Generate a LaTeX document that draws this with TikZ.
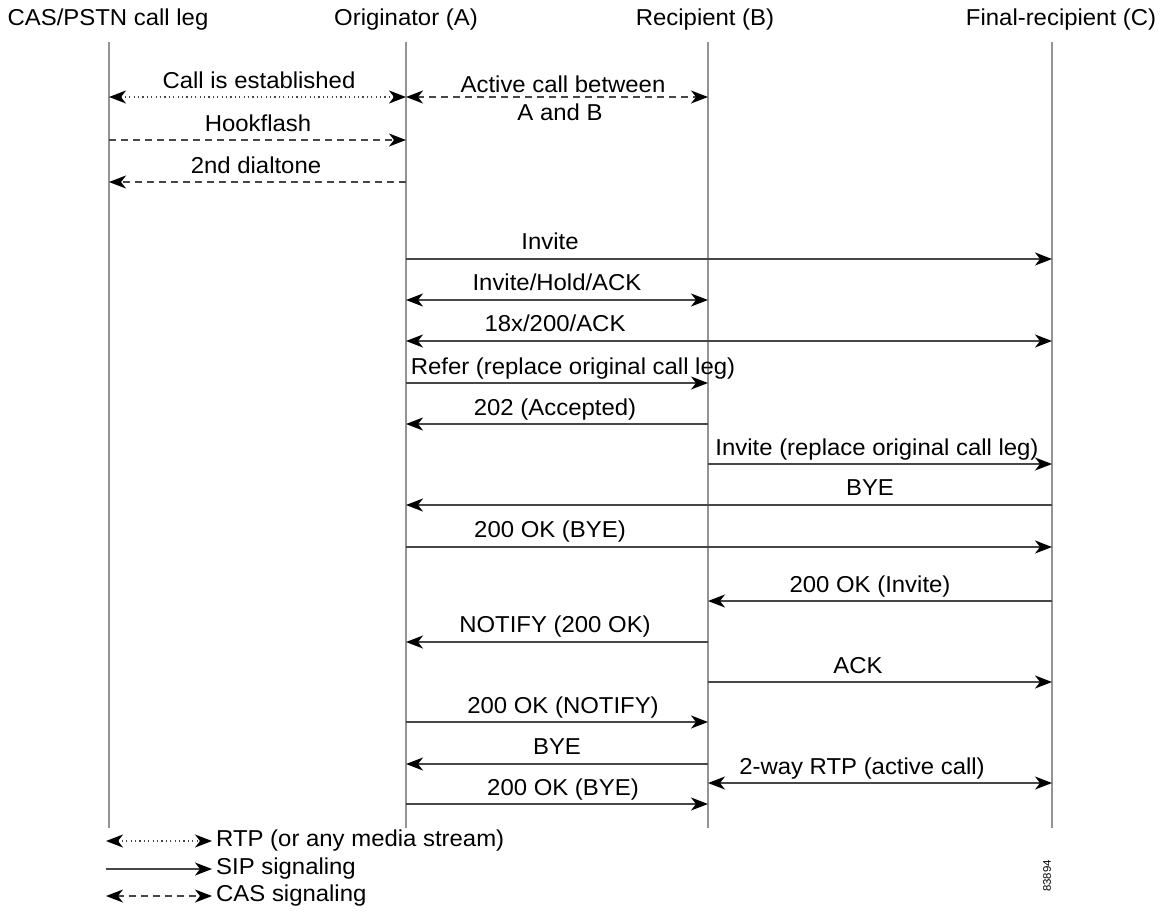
\documentclass[tikz,border=0pt]{standalone}
\usepackage{fontspec}
\setmainfont{Liberation Sans}[FakeStretch=1.04]
\usetikzlibrary{arrows.meta}
\begin{document}
\begin{tikzpicture}[x=1pt,y=-1pt,
  life/.style={draw=black!42, line width=1.7pt},
  tip/.tip={Stealth[length=17pt,width=13pt,inset=5pt,color=black]},
  msg/.style={draw=black!72, line width=1.4pt, -tip},
  bmsg/.style={draw=black!72, line width=1.4pt, tip-tip},
  casline/.style={dash pattern=on 7pt off 5pt},
  rtpline/.style={dash pattern=on 1.2pt off 3.2pt},
  lbl/.style={font=\fontsize{23}{26}\selectfont, anchor=base, inner sep=0pt},
  head/.style={font=\fontsize{23}{26}\selectfont, anchor=base, inner sep=0pt},
  leg/.style={font=\fontsize{23}{26}\selectfont, anchor=west, inner sep=0pt}
]
\useasboundingbox (0,0) rectangle (1161,911);
% lifeline anchors per row
\foreach \r/\yy in {0/42,1/97,2/140,3/182,4/259,5/300,6/341,7/383,8/424,9/464,10/505,11/547,12/601,13/642,14/682,15/722,16/764,17/783,18/804,19/828}{
  \foreach \n/\xx in {S/109,A/406,B/708,C/1052}{
    \coordinate (\n\r) at (\xx,\yy);
  }
}
% headers
\node[head] (hS) at (108,25) {CAS/PSTN call leg};
\node[head] (hA) at (406,25) {Originator (A)};
\node[head] (hB) at (705,25) {Recipient (B)};
\node[head] (hC) at (1061,25) {Final-recipient (C)};
% lifelines
\draw[life] (S0) -- (S19);
\draw[life] (A0) -- (A19);
\draw[life] (B0) -- (B19);
\draw[life] (C0) -- (C19);
% messages
\draw[bmsg,rtpline] (S1) -- (A1);
\node[lbl] (l1) at (259,88) {Call is established};
\draw[bmsg,casline] (A1) -- (B1);
\node[lbl] (l1b) at (563,92) {Active call between};
\node[lbl] (l1c) at (560,120) {A and B};
\draw[msg,casline] (S2) -- (A2);
\node[lbl] (l2) at (258,131) {Hookflash};
\draw[msg,casline] (A3) -- (S3);
\node[lbl] (l3) at (256,173) {2nd dialtone};
\draw[msg] (A4) -- (C4);
\node[lbl] (l4) at (550,249) {Invite};
\draw[bmsg] (A5) -- (B5);
\node[lbl] (l5) at (557,290) {Invite/Hold/ACK};
\draw[bmsg] (A6) -- (C6);
\node[lbl] (l6) at (555,331) {18x/200/ACK};
\draw[msg] (A7) -- (B7);
\node[lbl] (l7) at (573,374) {Refer (replace original call leg)};
\draw[msg] (B8) -- (A8);
\node[lbl] (l8) at (555,415) {202 (Accepted)};
\draw[msg] (B9) -- (C9);
\node[lbl] (l9) at (877,455) {Invite (replace original call leg)};
\draw[msg] (C10) -- (A10);
\node[lbl] (l10) at (870,495) {BYE};
\draw[msg] (A11) -- (C11);
\node[lbl] (l11) at (550,537) {200 OK (BYE)};
\draw[msg] (C12) -- (B12);
\node[lbl] (l12) at (870,592) {200 OK (Invite)};
\draw[msg] (B13) -- (A13);
\node[lbl] (l13) at (555,632) {NOTIFY (200 OK)};
\draw[msg] (B14) -- (C14);
\node[lbl] (l14) at (858,673) {ACK};
\draw[msg] (A15) -- (B15);
\node[lbl] (l15) at (563,713) {200 OK (NOTIFY)};
\draw[msg] (B16) -- (A16);
\node[lbl] (l16) at (557,754) {BYE};
\draw[bmsg] (B17) -- (C17);
\node[lbl] (l17) at (862,774) {2-way RTP (active call)};
\draw[msg] (A18) -- (B18);
\node[lbl] (l18) at (563,795) {200 OK (BYE)};
% legend
\coordinate (g1a) at (106,841); \coordinate (g1b) at (212,841);
\coordinate (g2a) at (106,869); \coordinate (g2b) at (212,869);
\coordinate (g3a) at (106,896); \coordinate (g3b) at (212,896);
\draw[bmsg,rtpline] (g1a) -- (g1b);
\draw[msg] (g2a) -- (g2b);
\draw[bmsg,casline] (g3a) -- (g3b);
\node[leg] (t1) at (216,841) {RTP (or any media stream)};
\node[leg] (t2) at (216,869) {SIP signaling};
\node[leg] (t3) at (216,896) {CAS signaling};
\node[font=\fontsize{11}{12}\selectfont, rotate=90, inner sep=0pt] (fid) at (1047,876) {83894};
\end{tikzpicture}
\end{document}
